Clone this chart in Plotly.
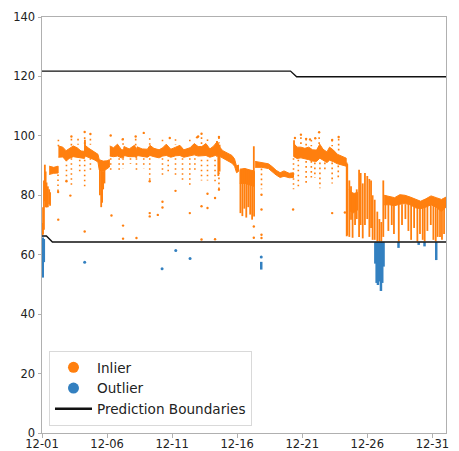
import numpy as np
import pandas as pd
import plotly.graph_objects as go

START = "2023-12-01"
X_END_DAYS = 31.05

# ---------------- data (time in days since 12-01 00:00) ----------------
# dense inlier band: lower / upper edge (None separates segments)
band_t = [0.55, 0.90, 1.24, None,
          1.26, 1.60, 1.85, 2.10, 2.40, 2.70, 3.00, 3.26, 3.32, 3.60, 4.00, 4.30, 4.40, 4.70, 5.00, 5.18, None,
          5.21, 5.50, 5.80, 6.10, 6.27, 6.30, 6.70, 7.10, 7.28, 7.31, 7.70, 8.10, 8.30, 8.60, 9.00, 9.28, 9.55,
          9.90, 10.28, 10.60, 10.90, 11.38, 11.70, 12.00, 12.28, 12.60, 12.90, 13.20, 13.45, 13.70, 13.90,
          14.20, 14.60, 14.80, 14.95, 15.10, None,
          15.20, 15.60, 16.00, 16.30, None,
          16.38, 16.90, 17.40, 17.70, 18.00, 18.30, 18.60, 19.00, 19.33, None,
          19.36, 19.60, 19.90, 20.20, 20.50, 20.80, 21.10, 21.35, 21.60, 21.90, 22.10, 22.40, 22.70, 23.00, 23.38, None,
          23.60, 23.90, 24.25, None,
          26.30, 26.70, 27.10, 27.50, 27.90, 28.30, 28.70, 29.10, 29.50, 29.90, 30.30, 30.70, 31.05]
band_lo = [87.0, 87.4, 87.5, None,
           92.8, 92.9, 91.6, 92.4, 93.0, 92.8, 92.6, 92.4, 93.2, 92.8, 92.0, 91.2, 88.5, 88.0, 89.0, 89.5, None,
           93.2, 93.0, 93.2, 92.6, 92.6, 93.4, 93.0, 93.0, 92.7, 93.4, 93.0, 92.8, 93.4, 93.0, 92.6, 93.2, 93.4,
           92.8, 93.3, 93.4, 92.8, 93.2, 93.6, 93.2, 93.4, 93.4, 92.8, 93.2, 93.6, 92.8, 92.5,
           91.8, 90.8, 89.8, 87.6, 88.0, None,
           84.0, 84.0, 83.5, 83.0, None,
           89.4, 89.4, 89.0, 88.0, 86.8, 86.0, 86.4, 85.9, 86.0, None,
           93.0, 92.4, 92.6, 92.2, 92.0, 91.5, 91.4, 92.5, 91.8, 91.0, 91.8, 91.3, 90.6, 90.2, 89.8, None,
           75.0, 74.0, 75.0, None,
           76.8, 76.8, 76.5, 77.0, 77.2, 76.8, 75.8, 75.5, 76.0, 76.8, 76.0, 74.5, 76.0]
band_hi = [89.8, 89.4, 89.8, None,
           96.6, 96.2, 95.0, 95.6, 96.6, 96.0, 94.9, 94.8, 96.8, 95.8, 94.8, 93.8, 92.0, 91.5, 91.6, 92.0, None,
           96.6, 96.0, 97.2, 95.4, 95.2, 96.4, 95.6, 96.8, 95.4, 96.3, 95.6, 95.5, 96.8, 95.8, 95.3, 96.0, 97.2,
           95.5, 96.2, 96.8, 95.3, 96.0, 97.4, 96.4, 96.4, 97.4, 95.6, 96.6, 98.0, 96.0, 95.0,
           94.4, 93.4, 92.2, 89.8, 90.2, None,
           88.8, 89.0, 88.5, 88.2, None,
           91.4, 91.0, 90.6, 89.6, 88.4, 87.6, 88.2, 87.4, 87.6, None,
           97.4, 96.2, 96.2, 95.8, 96.2, 95.3, 95.2, 97.2, 95.5, 94.6, 96.2, 95.2, 93.8, 93.2, 92.5, None,
           82.0, 80.5, 81.0, None,
           80.0, 79.6, 79.2, 80.2, 80.0, 79.4, 78.6, 78.0, 78.8, 79.8, 79.2, 78.6, 79.4]

# inlier vertical streaks (dense runs of points): time, top, bottom
streak_t = [0.02, 0.08, 0.15, 0.22, 0.28, 0.35, 0.45, 0.55, 0.62,
            3.30, 4.45, 4.55, 4.62, 4.70, 4.80, 13.45, 13.55, 13.65,
            15.25, 15.40, 15.55, 15.70, 15.85, 16.00, 16.15, 16.28, 16.30, 19.37,
            23.42, 23.46, 23.62, 23.75, 23.87, 24.06, 24.19, 24.37, 24.49, 24.65, 24.82, 25.00, 25.16,
            25.29, 25.41, 25.57, 25.77, 25.93, 26.08, 26.23, 26.39, 26.62, 26.88, 27.05, 27.42, 27.67,
            27.93, 28.16, 28.37, 28.60, 28.85, 29.05, 29.26, 29.41, 29.62, 29.88, 30.08, 30.26, 30.41,
            30.59, 30.74, 30.90]
streak_top = [70.7, 76.0, 85.0, 90.3, 88.0, 84.3, 83.0, 82.0, 81.0,
              98.7, 90.0, 89.0, 88.0, 88.0, 89.0, 98.3, 97.5, 97.0,
              88.5, 88.5, 89.0, 88.8, 88.2, 88.4, 88.0, 96.5, 88.0, 98.5,
              91.0, 90.5, 85.0, 83.0, 81.0, 80.0, 82.0, 88.6, 87.5, 84.0, 87.5, 86.5, 85.5,
              85.0, 80.0, 78.5, 74.5, 72.0, 71.0, 85.0, 80.0, 77.0, 77.0, 77.0, 78.0, 77.0,
              77.0, 77.0, 77.0, 77.0, 76.5, 76.0, 76.0, 76.0, 77.0, 77.0, 77.0, 77.0, 77.0,
              76.0, 76.0, 77.0]
streak_bot = [66.6, 66.8, 68.4, 78.0, 76.0, 75.9, 76.0, 77.0, 76.5,
              94.0, 80.0, 76.0, 77.5, 82.0, 84.0, 93.0, 86.5, 88.0,
              74.0, 73.0, 75.5, 72.5, 76.0, 73.5, 71.8, 86.0, 72.9, 93.0,
              66.2, 66.5, 66.0, 71.8, 65.7, 70.0, 72.0, 66.0, 70.0, 65.5, 70.0, 72.0, 66.0,
              69.0, 65.0, 65.0, 64.5, 64.5, 64.5, 66.0, 72.0, 68.0, 70.0, 67.0, 64.5, 70.0,
              72.0, 68.0, 65.0, 69.0, 64.5, 67.0, 65.0, 64.5, 68.0, 70.0, 65.0, 64.5, 66.0,
              66.0, 65.0, 67.0]

# inlier dotted columns (spread of points at day boundaries): time, top, bottom
col_t = [1.23, 1.88, 2.26, 2.90, 3.28, 3.72, 5.28, 5.93, 6.23, 6.80, 7.26, 7.82, 8.28, 9.26, 9.70,
         10.26, 10.80, 11.36, 11.75, 12.26, 12.72, 13.30, 13.60, 16.87, 19.33, 19.70, 20.30, 20.70,
         20.97, 21.36, 21.74, 22.30, 22.77,
         1.26, 2.26, 2.77, 3.28, 3.72, 6.23, 7.20, 8.28, 9.26, 10.26, 11.36, 12.26, 12.72, 13.60,
         19.90, 20.30, 20.70, 21.30, 22.30, 22.80]
col_top = [87.0, 92.0, 92.5, 92.0, 92.0, 92.5, 92.5, 92.5, 92.5, 92.5, 92.5, 92.5, 92.5, 92.5, 92.0,
           92.5, 92.5, 92.5, 92.5, 92.0, 92.0, 92.0, 91.0, 89.0, 92.5, 92.0, 91.5, 91.5,
           91.0, 91.0, 91.0, 91.0, 90.0,
           98.7, 99.0, 99.0, 99.5, 99.0, 99.2, 99.0, 99.2, 98.7, 98.9, 98.7, 99.5, 98.8, 99.5,
           99.5, 99.0, 98.6, 99.5, 98.6, 99.0]
col_bot = [81.0, 84.7, 83.5, 87.0, 82.0, 88.0, 88.0, 88.0, 89.0, 90.5, 88.0, 89.0, 85.0, 86.0, 88.0,
           86.5, 85.0, 83.5, 88.0, 85.0, 85.0, 84.0, 82.0, 82.0, 82.0, 82.0, 84.0, 86.0,
           85.8, 82.4, 88.0, 84.0, 86.0,
           96.5, 96.5, 97.0, 96.5, 97.0, 96.5, 96.5, 96.0, 97.0, 97.0, 97.0, 97.0, 97.5, 97.5,
           96.5, 96.5, 96.5, 97.0, 96.5, 95.0]

# isolated inlier points
dot_t = [2.26, 3.28, 3.72, 5.28, 7.20, 7.82, 12.26, 13.60, 12.00, 6.20, 9.82, 11.92, 19.90, 21.30,
         20.30, 22.80, 21.00, 20.60, 22.30, 19.44,
         1.25, 1.24, 1.88, 2.18, 3.28, 5.34, 6.23, 6.23, 7.26, 8.28, 8.28, 8.28, 8.90, 9.26, 9.26,
         10.26, 11.36, 12.26, 12.26, 12.72, 12.72, 13.30, 13.30, 13.60, 16.28, 16.28, 16.87, 16.87,
         16.87, 16.87, 19.30, 22.30, 23.28]
dot_v = [99.8, 101.3, 100.6, 100.1, 99.8, 101.0, 100.7, 99.6, 99.8, 98.8, 99.3, 99.5, 100.4, 101.2,
         99.0, 99.6, 99.2, 98.8, 98.6, 99.3,
         71.8, 81.1, 84.7, 79.9, 67.8, 73.2, 69.8, 65.4, 65.6, 84.7, 74.0, 72.9, 73.4, 77.8, 75.9,
         81.5, 74.0, 76.3, 65.1, 80.5, 75.7, 79.1, 65.2, 81.9, 69.5, 65.7, 80.2, 75.2,
         66.7, 65.6, 75.2, 74.0, 74.2]

# outliers: vertical runs (time, top, bottom) and isolated points
out_streak_t = [0.06, 0.14, 16.85, 25.62, 25.72, 25.82, 25.95, 26.05, 26.15, 26.25, 27.40, 28.95, 29.40, 30.30]
out_streak_top = [65.8, 65.3, 57.6, 64.2, 64.2, 64.2, 64.2, 64.2, 64.2, 64.2, 64.2, 64.2, 64.2, 64.2]
out_streak_bot = [52.3, 57.5, 55.0, 57.0, 50.5, 49.8, 51.0, 47.8, 50.5, 56.0, 62.3, 63.3, 62.8, 58.2]
out_dot_t = [3.28, 9.23, 10.28, 11.38, 16.85]
out_dot_v = [57.5, 55.3, 61.4, 58.7, 59.2]

# prediction boundaries
lower_t = [0.0, 0.34, 0.80, 31.05]
lower_v = [66.3, 66.3, 64.3, 64.3]
upper_t = [0.0, 19.10, 19.57, 31.05]
upper_v = [121.8, 121.8, 119.9, 119.9]

# ---------------- helpers ----------------
base = pd.Timestamp(START)


def to_dates(days):
    return [None if d is None else base + pd.Timedelta(days=d) for d in days]


def band_polygons(t, lo, hi):
    xs, ys = [], []
    seg = []
    for a, b, c in list(zip(t, lo, hi)) + [(None, None, None)]:
        if a is None:
            if seg:
                st = [s[0] for s in seg]
                sl = [s[1] for s in seg]
                sh = [s[2] for s in seg]
                xs += st + st[::-1] + [None]
                ys += sh + sl[::-1] + [None]
            seg = []
        else:
            seg.append((a, b, c))
    return xs, ys


def vsegments(t, top, bot):
    xs, ys = [], []
    for a, b, c in zip(t, top, bot):
        xs += [a, a, None]
        ys += [b, c, None]
    return xs, ys


ORANGE = "#ff7f0e"
BLUE = "#3380c0"
GRAY = "#b0b0b0"
FONT = "DejaVu Sans"

fig = go.Figure()

# legend-only entries
fig.add_trace(go.Scatter(x=[None], y=[None], mode="markers", name="Inlier",
                         marker=dict(color=ORANGE, size=11)))
fig.add_trace(go.Scatter(x=[None], y=[None], mode="markers", name="Outlier",
                         marker=dict(color=BLUE, size=11)))
fig.add_trace(go.Scatter(x=[None], y=[None], mode="lines", name="Prediction Boundaries",
                         line=dict(color="#111111", width=2.5)))

bx, by = band_polygons(band_t, band_lo, band_hi)
fig.add_trace(go.Scatter(x=to_dates(bx), y=by, mode="lines", fill="toself",
                         fillcolor=ORANGE, line=dict(color=ORANGE, width=1),
                         showlegend=False, hoverinfo="skip"))

sx, sy = vsegments(streak_t, streak_top, streak_bot)
fig.add_trace(go.Scatter(x=to_dates(sx), y=sy, mode="lines",
                         line=dict(color=ORANGE, width=1.8), showlegend=False))

cx, cy = vsegments(col_t, col_top, col_bot)
fig.add_trace(go.Scatter(x=to_dates(cx), y=cy, mode="lines",
                         line=dict(color=ORANGE, width=1.6, dash="1.6px,3.4px"), showlegend=False))

fig.add_trace(go.Scatter(x=to_dates(dot_t), y=dot_v, mode="markers",
                         marker=dict(color=ORANGE, size=2.4), showlegend=False))

ox, oy = vsegments(out_streak_t, out_streak_top, out_streak_bot)
fig.add_trace(go.Scatter(x=to_dates(ox), y=oy, mode="lines",
                         line=dict(color=BLUE, width=2.5), showlegend=False))
fig.add_trace(go.Scatter(x=to_dates(out_dot_t), y=out_dot_v, mode="markers",
                         marker=dict(color=BLUE, size=3), showlegend=False))

fig.add_trace(go.Scatter(x=to_dates(lower_t), y=lower_v, mode="lines",
                         line=dict(color="#111111", width=1.4), showlegend=False))
fig.add_trace(go.Scatter(x=to_dates(upper_t), y=upper_v, mode="lines",
                         line=dict(color="#111111", width=1.4), showlegend=False))

axis_common = dict(showgrid=False, zeroline=False, showline=True, linecolor=GRAY, linewidth=1,
                   mirror=True, ticks="outside", ticklen=3.5, tickcolor=GRAY, automargin=False,
                   tickfont=dict(family=FONT, size=11.5, color="#222222"))

fig.update_layout(
    width=459, height=451, autosize=False,
    margin=dict(l=42, r=13, t=17, b=18),
    paper_bgcolor="white", plot_bgcolor="white",
    xaxis=dict(type="date", range=[base, base + pd.Timedelta(days=X_END_DAYS)],
               tick0=START, dtick=5 * 86400000, tickformat="%m-%d", ticklabelstandoff=-3,
               **axis_common),
    yaxis=dict(range=[0, 140], dtick=20, **axis_common),
    legend=dict(x=0.0173, y=0.0168, xanchor="left", yanchor="bottom",
                bgcolor="white", bordercolor="#d9d9d9", borderwidth=1, itemwidth=37,
                font=dict(family=FONT, size=13.6, color="#222222"), traceorder="normal"),
    showlegend=True,
)

fig.write_html("out.html")
